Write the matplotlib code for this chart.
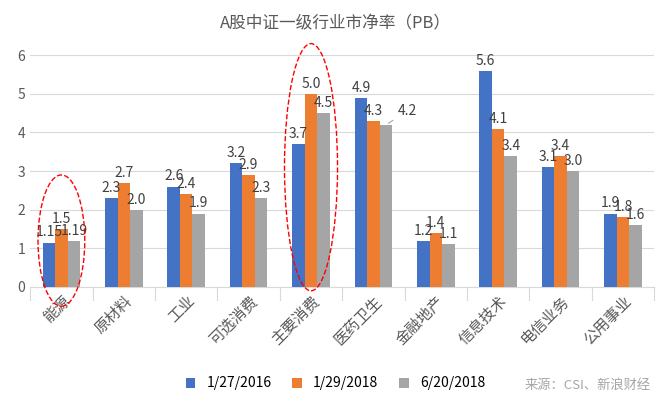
import matplotlib
matplotlib.use("Agg")
import matplotlib.pyplot as plt
from matplotlib.patches import Ellipse
import numpy as np

plt.rcParams['font.family'] = ['Noto Sans CJK SC']

categories = ["能源", "原材料", "工业", "可选消费", "主要消费", "医药卫生", "金融地产", "信息技术", "电信业务", "公用事业"]
s2016 = [1.15, 2.3, 2.6, 3.2, 3.7, 4.9, 1.2, 5.6, 3.1, 1.9]
s2018a = [1.5, 2.7, 2.4, 2.9, 5.0, 4.3, 1.4, 4.1, 3.4, 1.8]
s2018b = [1.19, 2.0, 1.9, 2.3, 4.5, 4.2, 1.1, 3.4, 3.0, 1.6]
labels2016 = ["1.15", "2.3", "2.6", "3.2", "3.7", "4.9", "1.2", "5.6", "3.1", "1.9"]
labels2018a = ["1.5", "2.7", "2.4", "2.9", "5.0", "4.3", "1.4", "4.1", "3.4", "1.8"]
labels2018b = ["1.19", "2.0", "1.9", "2.3", "4.5", "4.2", "1.1", "3.4", "3.0", "1.6"]
series_names = ["1/27/2016", "1/29/2018", "6/20/2018"]
colors = ["#4472C4", "#ED7D31", "#A5A5A5"]

fig = plt.figure(figsize=(6.71, 4.03), dpi=100)
ax = fig.add_axes([0.045, 0.288, 0.93, 0.575])
x = np.arange(len(categories))
w = 0.2
for i, (vals, labs) in enumerate([(s2016, labels2016), (s2018a, labels2018a), (s2018b, labels2018b)]):
    xs = x + (i - 1) * w
    ax.bar(xs, vals, w, color=colors[i], label=series_names[i], zorder=3)
    for xi, v, l in zip(xs, vals, labs):
        if l == "4.2":
            ax.annotate(l, xy=(xi, v), xytext=(xi + 0.35, v + 0.35), ha='center', va='center',
                        fontsize=10, color='#404040',
                        arrowprops=dict(arrowstyle='-', color='#A5A5A5', lw=0.8))
        else:
            ax.text(xi, v + 0.08, l, ha='center', va='bottom', fontsize=10, color='#404040', zorder=4)

ax.set_ylim(0, 6)
ax.set_xlim(-0.5, len(categories) - 0.5)
ax.set_yticks(range(7))
ax.tick_params(axis='y', length=0, labelsize=10, colors='#595959')
ax.yaxis.grid(True, color='#D9D9D9', lw=0.8, zorder=0)
ax.set_xticks(x)
ax.set_xticklabels(categories, rotation=45, ha='right', rotation_mode='anchor', fontsize=11, color='#595959')
ax.tick_params(axis='x', length=0, pad=4)
for b in np.arange(-0.5, len(categories), 1):
    ax.plot([b, b], [0, -0.35], color='#D9D9D9', lw=0.8, clip_on=False)
for s in ['top', 'right', 'left']:
    ax.spines[s].set_visible(False)
ax.spines['bottom'].set_color('#D9D9D9')

for cx, cy, ww, hh in [(0, 1.2, 0.75, 3.4), (4, 3.1, 0.85, 6.4)]:
    ax.add_patch(Ellipse((cx, cy), ww, hh, fill=False, ec='red', ls='--', lw=1, clip_on=False, zorder=5))

fig.text(0.5, 0.93, "A股中证一级行业市净率（PB）", ha='center', fontsize=12, color='#595959')
fig.legend(loc='lower center', bbox_to_anchor=(0.5, 0.0), ncol=3, frameon=False, fontsize=10,
           handlelength=0.7, handleheight=0.7, columnspacing=1.5)
fig.text(0.97, 0.035, "来源：CSI、新浪财经", ha='right', fontsize=9.5, color='#A5A5A5')
fig.savefig("out.png", dpi=100)
